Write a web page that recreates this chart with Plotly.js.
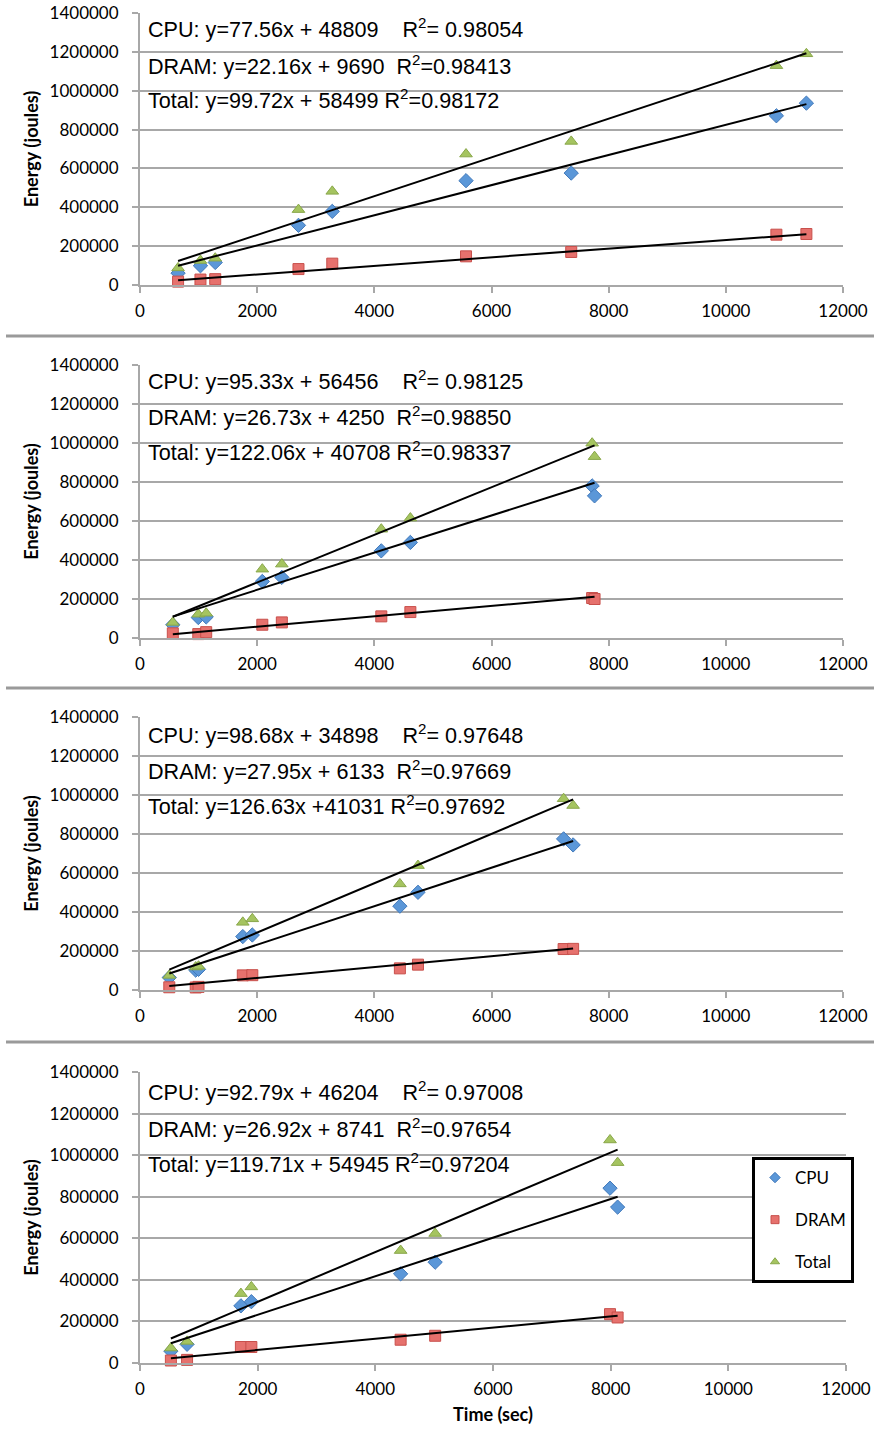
<!DOCTYPE html>
<html><head><meta charset="utf-8">
<script src="https://cdn.plot.ly/plotly-3.0.1.min.js"></script>
<style>html,body{margin:0;padding:0;background:#fff}#chart{width:874px;height:1433px}</style>
</head><body><div id="chart"></div>
<script>
// ---------- data ----------
const seriesNames = ['CPU', 'DRAM', 'Total'];
const xTickVals = [0, 2000, 4000, 6000, 8000, 10000, 12000];
const yTickVals = [0, 200000, 400000, 600000, 800000, 1000000, 1200000, 1400000];

// Panel 1
const time1  = [650, 1032, 1284, 2705, 3282, 5565, 7361, 10863, 11375];
const cpu1   = [61000, 99000, 116000, 307000, 379000, 537000, 576000, 871000, 936000];
const dram1  = [17500, 28000, 30000, 82000, 110000, 147500, 170000, 259000, 262500];
const total1 = [88000, 126000, 138000, 388000, 482000, 674000, 739000, 1129000, 1190000];
const slope1 = [77.56, 22.16, 99.72];
const icpt1  = [48809, 9690, 58499];
const eq1 = ['CPU: y=77.56x + 48809\u00a0\u00a0\u00a0\u00a0R<sup>2</sup>= 0.98054',
             'DRAM: y=22.16x + 9690\u00a0\u00a0R<sup>2</sup>=0.98413',
             'Total: y=99.72x + 58499 R<sup>2</sup>=0.98172'];

// Panel 2
const time2  = [560, 995, 1130, 2088, 2421, 4119, 4615, 7718, 7759];
const cpu2   = [68000, 105000, 108000, 290000, 311000, 447000, 490000, 780000, 729000];
const dram2  = [24000, 20000, 30000, 68000, 80000, 111000, 133000, 205000, 200000];
const total2 = [80000, 122000, 127000, 353000, 379000, 558000, 615000, 999000, 930000];
const slope2 = [95.33, 26.73, 122.06];
const icpt2  = [56456, 4250, 40708];
const eq2 = ['CPU: y=95.33x + 56456\u00a0\u00a0\u00a0\u00a0R<sup>2</sup>= 0.98125',
             'DRAM: y=26.73x + 4250\u00a0\u00a0R<sup>2</sup>=0.98850',
             'Total: y=122.06x + 40708 R<sup>2</sup>=0.98337'];

// Panel 3
const time3  = [500, 951, 999, 1755, 1917, 4436, 4745, 7231, 7393];
const cpu3   = [64000, 102000, 106000, 274000, 282000, 430000, 501000, 775000, 744000];
const dram3  = [14000, 13000, 16000, 75000, 76000, 111000, 130000, 210000, 211000];
const total3 = [75000, 118000, 122000, 347000, 365000, 544000, 638000, 981000, 946000];
const slope3 = [98.68, 27.95, 126.63];
const icpt3  = [34898, 6133, 41031];
const eq3 = ['CPU: y=98.68x + 34898\u00a0\u00a0\u00a0\u00a0R<sup>2</sup>= 0.97648',
             'DRAM: y=27.95x + 6133\u00a0\u00a0R<sup>2</sup>=0.97669',
             'Total: y=126.63x +41031 R<sup>2</sup>=0.97692'];

// Panel 4
const time4  = [525, 800, 1715, 1893, 4430, 5017, 7989, 8118];
const cpu4   = [57000, 90000, 275000, 295000, 429000, 485000, 841000, 750000];
const dram4  = [12000, 15000, 77000, 77000, 112000, 131000, 235000, 219000];
const total4 = [72000, 104000, 334000, 366000, 541000, 623000, 1073000, 964000];
const slope4 = [92.79, 26.92, 119.71];
const icpt4  = [46204, 8741, 54945];
const eq4 = ['CPU: y=92.79x + 46204\u00a0\u00a0\u00a0\u00a0R<sup>2</sup>= 0.97008',
             'DRAM: y=26.92x + 8741\u00a0\u00a0R<sup>2</sup>=0.97654',
             'Total: y=119.71x + 54945 R<sup>2</sup>=0.97204'];

const panels = [
  {t: time1, s: [cpu1, dram1, total1], m: slope1, b: icpt1, eq: eq1},
  {t: time2, s: [cpu2, dram2, total2], m: slope2, b: icpt2, eq: eq2},
  {t: time3, s: [cpu3, dram3, total3], m: slope3, b: icpt3, eq: eq3},
  {t: time4, s: [cpu4, dram4, total4], m: slope4, b: icpt4, eq: eq4}
];

// ---------- styling / layout ----------
const W = 874, H = 1433;
const fx = px => px / W;
const fy = py => 1 - py / H;
// pixel geometry of each panel: [left, right, top(1.4M), bottom(0)]
const geom = [[140, 843, 13, 285], [140, 843, 365, 638], [140, 843, 717, 990], [140, 846, 1072, 1363]];
const eqRows = [[28, 65, 99], [380, 416, 451], [734, 770, 805], [1091, 1128, 1163]];
const dividers = [336, 688, 1042];

const markerStyles = [
  {symbol: 'diamond', size: 11, color: '#5b97d8', line: {color: '#4179bb', width: 1}},
  {symbol: 'square', size: 11, color: '#e6716d', line: {color: '#c8504c', width: 1}},
  {symbol: 'triangle-up', size: 11, color: '#a5c460', line: {color: '#89a74a', width: 1}}
];
const legendMarkers = [
  {symbol: 'diamond', size: 8, color: '#5b97d8', line: {color: '#4179bb', width: 1}},
  {symbol: 'square', size: 8, color: '#e6716d', line: {color: '#c8504c', width: 1}},
  {symbol: 'triangle-up', size: 8, color: '#a5c460', line: {color: '#89a74a', width: 1}}
];
const gridCol = '#a8a8a8';
const tickFont = {family: 'Lato, Carlito, "Open Sans", sans-serif', size: 17, color: '#000'};
const titleFont = {family: 'Lato, Carlito, sans-serif', size: 18, weight: 'bold', color: '#000'};

const traces = [];
const layout = {
  width: W, height: H,
  margin: {l: 0, r: 0, t: 0, b: 0},
  paper_bgcolor: '#fff', plot_bgcolor: '#fff',
  showlegend: true,
  legend: {
    x: fx(752), y: fy(1157), xanchor: 'left', yanchor: 'top',
    bordercolor: '#000', borderwidth: 3, bgcolor: '#fff',
    font: {family: 'Lato, Carlito, sans-serif', size: 17, color: '#000'},
    traceorder: 'grouped', tracegroupgap: 17, itemwidth: 30
  },
  annotations: [], shapes: []
};

panels.forEach((p, i) => {
  const n = i === 0 ? '' : String(i + 1);
  const xa = 'x' + n, ya = 'y' + n;
  const g = geom[i];
  p.s.forEach((vals, k) => {
    traces.push({
      type: 'scatter', mode: 'markers', x: p.t, y: vals, xaxis: xa, yaxis: ya,
      name: seriesNames[k], showlegend: false, marker: markerStyles[k], cliponaxis: false
    });
  });
  // trend lines from the fitted equations, spanning the data range
  const xmin = Math.min(...p.t), xmax = Math.max(...p.t);
  p.m.forEach((m, k) => {
    traces.push({
      type: 'scatter', mode: 'lines', x: [xmin, xmax], y: [m * xmin + p.b[k], m * xmax + p.b[k]],
      xaxis: xa, yaxis: ya, showlegend: false, hoverinfo: 'skip',
      line: {color: '#000', width: 2}
    });
  });
  const xaxis = {
    domain: [fx(g[0]), fx(g[1])], anchor: ya, range: [0, 12000],
    tickvals: xTickVals, tickformat: 'd', showgrid: false, zeroline: false,
    showline: true, linecolor: gridCol, linewidth: 2,
    ticks: 'outside', ticklen: 6, tickwidth: 2, tickcolor: gridCol,
    tickfont: tickFont, ticklabelstandoff: 4
  };
  if (i === 3) xaxis.title = {text: 'Time (sec)', font: titleFont, standoff: 10};
  layout['xaxis' + n] = xaxis;
  layout['yaxis' + n] = {
    domain: [fy(g[3]), fy(g[2])], anchor: xa, range: [0, 1400000],
    tickvals: yTickVals, tickformat: 'd', showgrid: true, gridcolor: gridCol, gridwidth: 2,
    zeroline: false, showline: true, linecolor: gridCol, linewidth: 2,
    ticks: 'outside', ticklen: 6, tickwidth: 2, tickcolor: gridCol,
    tickfont: tickFont, ticklabelstandoff: 10,
    title: {text: 'Energy (joules)', font: titleFont, standoff: 6}
  };
  p.eq.forEach((txt, r) => {
    layout.annotations.push({
      xref: 'paper', yref: 'paper', x: fx(146), y: fy(eqRows[i][r]),
      xanchor: 'left', yanchor: 'middle', showarrow: false, text: txt,
      font: {family: '"Liberation Sans", Arial, sans-serif', size: 21.6, color: '#000'}
    });
  });
});

// legend entries (shown inside the bottom panel)
seriesNames.forEach((nm, k) => {
  traces.push({
    type: 'scatter', mode: 'markers', x: [null], y: [null], xaxis: 'x4', yaxis: 'y4',
    name: nm, legendgroup: nm, showlegend: true, marker: legendMarkers[k]
  });
});

dividers.forEach(py => {
  layout.shapes.push({type: 'line', xref: 'paper', yref: 'paper', x0: fx(6), x1: 1, y0: fy(py), y1: fy(py),
    line: {color: '#9a9a9a', width: 3}});
});

Plotly.newPlot('chart', traces, layout, {displayModeBar: false, staticPlot: true});
</script>
</body></html>
